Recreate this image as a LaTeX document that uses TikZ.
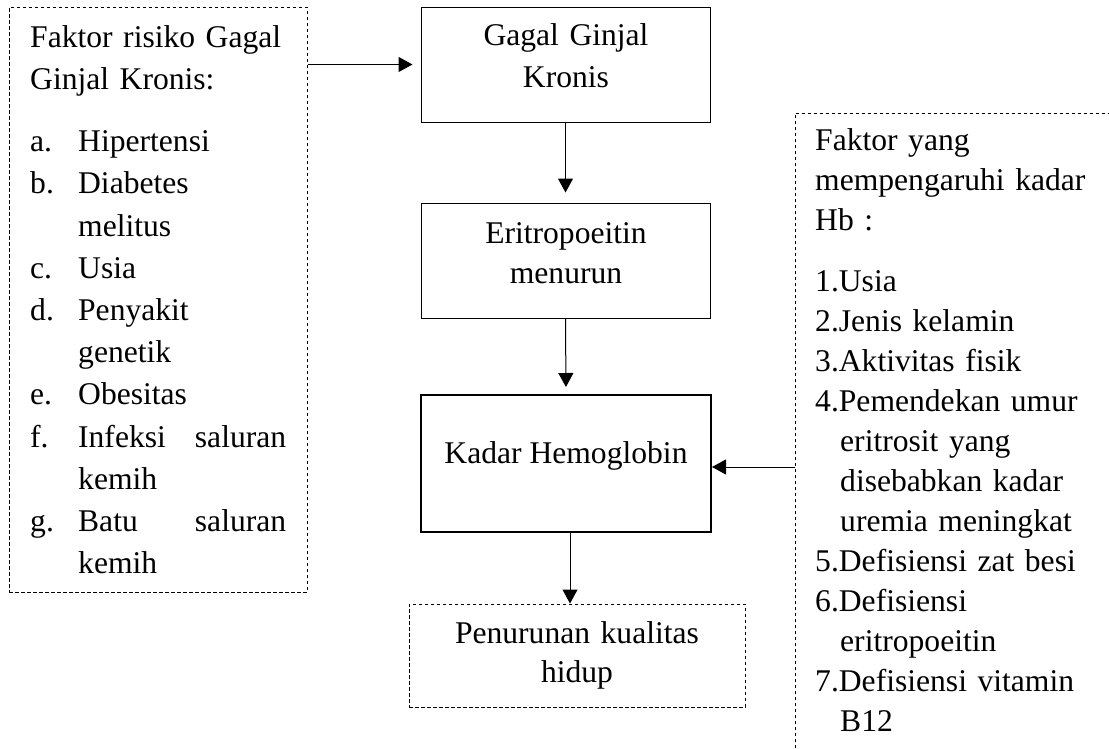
\documentclass[tikz,border=0pt]{standalone}
\usepackage{fontspec}
\setmainfont{Liberation Serif}
\usetikzlibrary{arrows.meta}
\begin{document}
\begin{tikzpicture}[x=1pt,y=-1pt,
  box/.style={draw=black, line width=1pt, inner sep=0pt},
  dbox/.style={draw=black, line width=1pt, dash pattern=on 3.5pt off 2.5pt, inner sep=0pt},
  arr/.style={-{Triangle[length=14pt,width=15pt]}, line width=1pt},
  txt/.style={inner sep=0pt, font=\fontsize{31.6pt}{#1}\selectfont},
  txt/.default={40pt}
]
\useasboundingbox (0,0) rectangle (1109,748);

% boxes
\node[dbox, minimum width=298pt, minimum height=585pt] (L) at (158,299.5) {};
\node[box, minimum width=289pt, minimum height=115pt] (G) at (565.5,64.5) {};
\node[box, minimum width=289pt, minimum height=115pt] (E) at (565.5,260.5) {};
\node[box, line width=2pt, minimum width=290pt, minimum height=137pt] (K) at (566,463.5) {};
\node[dbox, minimum width=336pt, minimum height=103pt] (P) at (577,655.5) {};
\node[inner sep=0pt, anchor=north west, minimum width=314pt, minimum height=635pt] (R) at (795,113) {};
\draw[dbox] (R.south west) -- (R.north west) -- (R.north east);

% texts
\node[txt=42.2pt, anchor=north west, text width=256pt, align=left] (Lt) at (30,17.5) {%
\strut Faktor risiko Gagal\\
Ginjal Kronis:\\[20pt]
\makebox[48pt][l]{a.}Hipertensi\\
\makebox[48pt][l]{b.}Diabetes\\
\hspace*{48pt}melitus\\
\makebox[48pt][l]{c.}Usia\\
\makebox[48pt][l]{d.}Penyakit\\
\hspace*{48pt}genetik\\
\makebox[48pt][l]{e.}Obesitas\\
\makebox[48pt][l]{f.}Infeksi\hfill saluran\\
\hspace*{48pt}kemih\\
\makebox[48pt][l]{g.}Batu\hfill saluran\\
\hspace*{48pt}kemih};

\node[txt=40pt, anchor=north west, text width=292pt, align=left] (Rt) at (815,122) {%
\strut Faktor yang\\
mempengaruhi kadar\\
Hb :\\[21pt]
1.Usia\\
2.Jenis kelamin\\
3.Aktivitas fisik\\
4.Pemendekan umur\\
\hspace*{25pt}eritrosit yang\\
\hspace*{25pt}disebabkan kadar\\
\hspace*{25pt}uremia meningkat\\
5.Defisiensi zat besi\\
6.Defisiensi\\
\hspace*{25pt}eritropoeitin\\
7.Defisiensi vitamin\\
\hspace*{25pt}B12};

\node[txt=42pt, anchor=north, text width=280pt, align=center] (Gt) at (566,15.6) {\strut Gagal Ginjal\\Kronis};
\node[txt=40pt, anchor=north, text width=280pt, align=center] (Et) at (566,215) {\strut Eritropoeitin\\menurun};
\node[txt=40pt, anchor=base] (Kt) at (566,463) {Kadar Hemoglobin};
\node[txt=39pt, anchor=north, text width=330pt, align=center] (Pt) at (577,615.7) {\strut Penurunan kualitas\\hidup};

% connectors
\draw[arr, shorten >=8pt] (L.east |- G.west) -- (G.west);
\draw[arr, shorten >=10pt] (G.south) -- (E.north);
\draw[arr, shorten >=7pt] (E.south) -- (K.north);
\draw[arr] ([xshift=4pt]K.south) -- ([xshift=4pt]K.south |- P.north);
\draw[arr] ([yshift=-3.5pt]R.west |- K.east) -- ([yshift=-3.5pt]K.east);
\end{tikzpicture}
\end{document}
